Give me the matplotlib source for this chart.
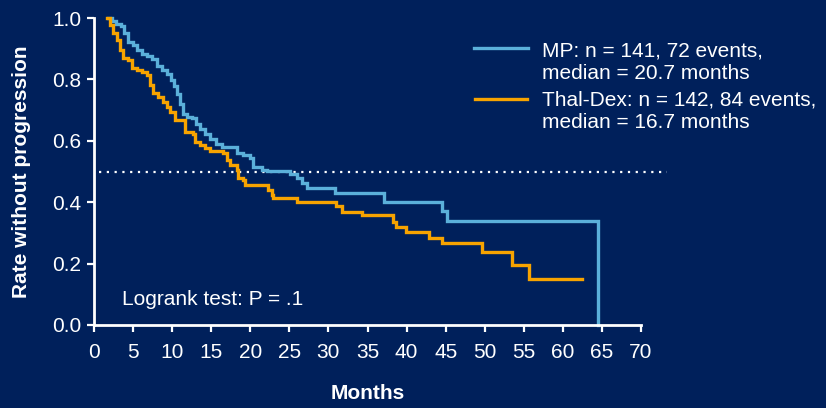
import matplotlib
matplotlib.use('Agg')
import matplotlib.pyplot as plt
from matplotlib.lines import Line2D

# ---- data ----
mp_time = [1.79, 2.30, 2.81, 3.45, 3.83, 4.34, 4.98, 5.49, 6.13, 6.77, 7.41, 8.05,
           8.68, 9.32, 9.83, 10.22, 10.60, 10.98, 11.37, 11.88, 12.52, 13.03, 13.54,
           14.18, 14.81, 15.58, 16.35, 18.26, 19.03, 19.92, 20.31, 21.46, 22.09,
           25.03, 25.93, 26.56, 27.20, 30.78, 37.16, 44.57, 45.21, 64.5, 64.5]
mp_surv = [1.0, 0.990, 0.980, 0.974, 0.951, 0.922, 0.912, 0.896, 0.883, 0.876, 0.866, 0.844,
           0.831, 0.818, 0.798, 0.779, 0.752, 0.720, 0.687, 0.678, 0.674, 0.655, 0.638,
           0.622, 0.606, 0.590, 0.580, 0.560, 0.554, 0.544, 0.515, 0.505, 0.502,
           0.492, 0.479, 0.463, 0.446, 0.430, 0.401, 0.371, 0.339, 0.339, 0.0]

td_time = [1.72, 2.04, 2.43, 2.94, 3.32, 3.70, 4.34, 4.85, 5.49, 6.13, 6.77, 7.15,
           7.54, 8.17, 8.81, 9.32, 9.71, 10.34, 11.62, 12.64, 12.90, 13.54, 14.18,
           14.81, 16.48, 16.99, 17.37, 18.26, 18.39, 19.03, 19.28, 22.22, 22.73,
           22.86, 25.93, 30.91, 31.80, 34.35, 38.31, 38.70, 39.97, 42.91, 44.57,
           49.68, 53.51, 55.68, 62.45]
td_surv = [1.0, 0.977, 0.951, 0.928, 0.896, 0.870, 0.863, 0.837, 0.831, 0.824, 0.814, 0.782,
           0.756, 0.743, 0.726, 0.710, 0.694, 0.668, 0.629, 0.622, 0.596, 0.586, 0.577,
           0.567, 0.560, 0.537, 0.521, 0.505, 0.479, 0.472, 0.456, 0.440, 0.423,
           0.414, 0.401, 0.388, 0.368, 0.358, 0.336, 0.319, 0.303, 0.283, 0.267,
           0.238, 0.195, 0.150, 0.150]

x_ticks = list(range(0, 71, 5))
y_ticks = [0.0, 0.2, 0.4, 0.6, 0.8, 1.0]
y_ticklabels = ['0.0', '0.2', '0.4', '0.6', '0.8', '1.0']

mp_label = ['MP: n = 141, 72 events,', 'median = 20.7 months']
td_label = ['Thal-Dex: n = 142, 84 events,', 'median = 16.7 months']
logrank_text = 'Logrank test: P = .1'
median_level = 0.5

# ---- style ----
BG = '#00205B'
BLUE = '#5BB0DA'
ORANGE = '#F7A300'
WHITE = '#FFFFFF'
FONT = 'Liberation Sans'
FS = 15

W, H = 826, 408
fig = plt.figure(figsize=(W / 100, H / 100), dpi=100, facecolor=BG)
ax = fig.add_axes([94 / W, 1 - 325 / H, (641 - 94) / W, (325 - 18) / H])
ax.set_facecolor(BG)

ax.set_xlim(0, 70)
ax.set_ylim(0, 1)

# dotted median line (extends past the axis)
ax.plot([0.6, 73.3], [median_level, median_level], color=WHITE, lw=1.6,
        linestyle=(0, (1, 2.5)), clip_on=False, zorder=2)

ax.step(mp_time, mp_surv, where='post', color=BLUE, lw=2.4, zorder=3,
        solid_joinstyle='miter', clip_on=False)
ax.step(td_time, td_surv, where='post', color=ORANGE, lw=2.4, zorder=3,
        solid_joinstyle='miter', clip_on=False)

for s in ['top', 'right']:
    ax.spines[s].set_visible(False)
for s in ['left', 'bottom']:
    ax.spines[s].set_color(WHITE)
    ax.spines[s].set_linewidth(2.0)
    ax.spines[s].set_zorder(4)

ax.set_xticks(x_ticks)
ax.set_xticklabels([str(v) for v in x_ticks])
ax.set_yticks(y_ticks)
ax.set_yticklabels(y_ticklabels)
ax.tick_params(axis='both', colors=WHITE, direction='out', length=5, width=1.6,
               labelsize=FS, labelcolor=WHITE)
ax.tick_params(axis='x', pad=8)
ax.tick_params(axis='y', pad=4)
for lab in ax.get_xticklabels() + ax.get_yticklabels():
    lab.set_fontfamily(FONT)

ax.set_xlabel('Months', color=WHITE, fontsize=FS, fontweight='bold',
              fontfamily=FONT, labelpad=16)
ax.set_ylabel('Rate without progression', color=WHITE, fontsize=FS,
              fontweight='bold', fontfamily=FONT, labelpad=15)

# logrank annotation
fig.text(121.5 / W, 1 - 305 / H, logrank_text, color=WHITE, fontsize=FS,
         fontfamily=FONT, ha='left', va='baseline')

# legend (drawn manually to match layout)
def fx(px):
    return px / W

def fy(py):
    return 1 - py / H

fig.add_artist(Line2D([fx(474), fx(528)], [fy(47.5), fy(47.5)], color=BLUE,
                      lw=2.4, transform=fig.transFigure))
fig.add_artist(Line2D([fx(475), fx(527)], [fy(99), fy(99)], color=ORANGE,
                      lw=2.4, transform=fig.transFigure))
for i, line in enumerate(mp_label):
    fig.text(fx(542), fy(56.7 + 22 * i), line, color=WHITE, fontsize=FS,
             fontfamily=FONT, ha='left', va='baseline')
for i, line in enumerate(td_label):
    fig.text(fx(542), fy(106 + 22.5 * i), line, color=WHITE, fontsize=FS,
             fontfamily=FONT, ha='left', va='baseline')

fig.savefig('out.png', dpi=100, facecolor=BG)
